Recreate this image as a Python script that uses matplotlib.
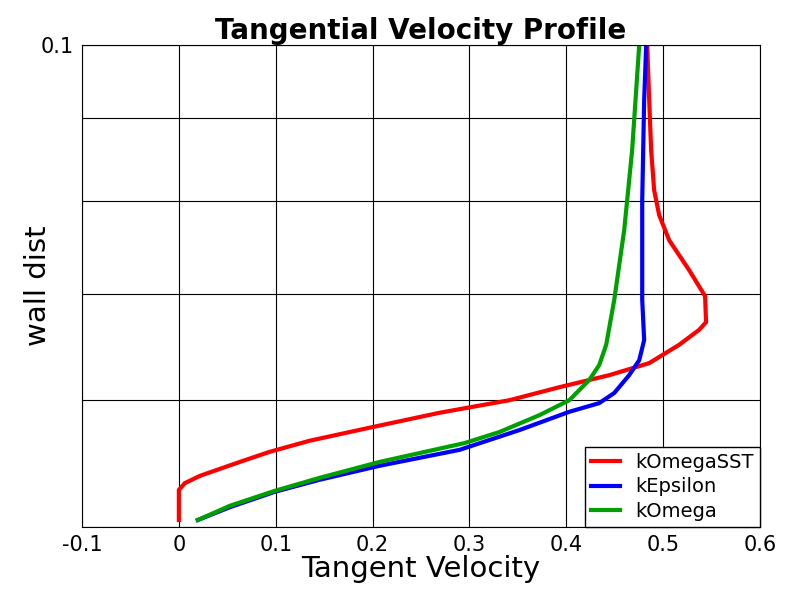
import matplotlib
matplotlib.use("Agg")
import matplotlib.pyplot as plt
import numpy as np

# values (x: velocity, y: wall dist in displayed axis units)
red_x = [0.0,0.0,0.0062,0.0216,0.0629,0.0938,0.1351,0.1969,0.2691,0.3412,0.3928,0.4443,0.4856,0.5165,0.5371,0.5443,0.5433,0.5268,0.5062,0.4959,0.4907,0.4876,0.4856,0.4835]
red_y = [0.00145,0.0077,0.0091,0.0106,0.0135,0.0156,0.0179,0.0206,0.0237,0.0263,0.0290,0.0315,0.0340,0.0378,0.0409,0.0425,0.0479,0.0533,0.0595,0.0647,0.0699,0.0782,0.0886,0.1]
blue_x = [0.0196,0.0526,0.0990,0.1454,0.2072,0.2897,0.3515,0.4031,0.4340,0.4495,0.4649,0.4753,0.4804,0.4784,0.4784,0.4804,0.4825]
blue_y = [0.00145,0.0041,0.0073,0.0098,0.0127,0.0160,0.0201,0.0239,0.0257,0.0278,0.0315,0.0346,0.0388,0.0471,0.0678,0.0886,0.1]
green_x = [0.0196,0.0526,0.0990,0.1454,0.2072,0.2948,0.3309,0.3722,0.4031,0.4134,0.4237,0.4340,0.4412,0.4495,0.4598,0.4680,0.4753]
green_y = [0.00145,0.0044,0.0075,0.0102,0.0135,0.0174,0.0197,0.0232,0.0263,0.0284,0.0305,0.0336,0.0378,0.0471,0.0616,0.0782,0.1]
x_ticks = [-0.1,0,0.1,0.2,0.3,0.4,0.5,0.6]
x_tick_labels = ["-0.1","0","0.1","0.2","0.3","0.4","0.5","0.6"]
y_grid = [0.0, 0.0263, 0.0483, 0.0676, 0.0849, 0.1]
y_tick_labels = ["", "", "", "", "", "0.1"]

fig = plt.figure(figsize=(8,6), dpi=100)
ax = fig.add_axes([82/800, 1-527/600, 678/800, 482/600])
ax.plot(red_x, red_y, color="#ff0000", lw=3, label="kOmegaSST")
ax.plot(blue_x, blue_y, color="#0000ff", lw=3, label="kEpsilon")
ax.plot(green_x, green_y, color="#00a000", lw=3, label="kOmega")
ax.set_xlim(-0.1,0.6); ax.set_ylim(0,0.1)
ax.set_xticks(x_ticks); ax.set_xticklabels(x_tick_labels, fontsize=15)
ax.set_yticks(y_grid); ax.set_yticklabels(y_tick_labels, fontsize=15)
ax.grid(True, color="black", lw=0.8)
ax.tick_params(length=0, pad=6)
for s in ax.spines.values(): s.set_linewidth(0.8)
ax.set_title("Tangential Velocity Profile", fontsize=20, fontweight="bold", pad=4)
ax.set_xlabel("Tangent Velocity", fontsize=21, labelpad=0)
ax.set_ylabel("wall dist", fontsize=21, labelpad=-8)
leg = ax.legend(loc="lower right", fontsize=14, fancybox=False, framealpha=1, edgecolor="black",
                borderaxespad=0, handlelength=1.5, borderpad=0.3, labelspacing=0.3)
fig.savefig("out.png")
